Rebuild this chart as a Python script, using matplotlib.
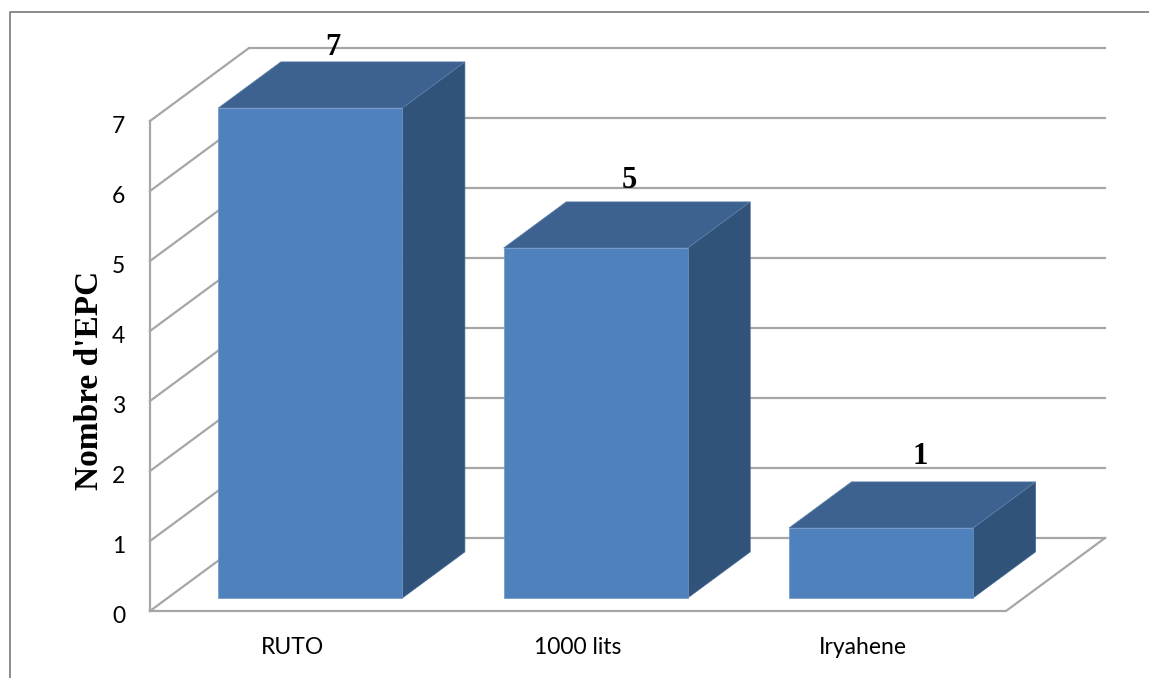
import matplotlib
matplotlib.use('Agg')
import matplotlib.pyplot as plt
from matplotlib.lines import Line2D
from matplotlib.patches import Polygon
from matplotlib.transforms import ScaledTranslation

categories = ['RUTO', '1000 lits', 'Iryahene']
values = [7, 5, 1]
yticks = [0, 1, 2, 3, 4, 5, 6, 7]

# offsets of the value labels from the top of each bar, in points
label_dx = [-29, -20.5, -17]
label_dy = [10, 15.5, 18.5]

GRID = '#a6a6a6'
FRONT = '#4f81bd'
TOP = '#3e6290'
SIDE = '#325379'

# depth of the box, in data units of each axis
DEPTH_X = 99 / (856 / 3)
DEPTH_Y = 73 / 70
BAR_W = 0.645
BAR_D0 = 0.178
BAR_D1 = 0.81


def project(x, v, d):
    return x + d * DEPTH_X, v + d * DEPTH_Y


fig = plt.figure(figsize=(11.49, 6.78), dpi=100)
W, H = 1149.0, 678.0
ax = fig.add_axes([150 / W, 1 - 611 / H, 856 / W, 490 / H])
ax.set_xlim(0, 3)
ax.set_ylim(0, 7)
for s in ax.spines.values():
    s.set_visible(False)
ax.patch.set_visible(False)


def line(pts, lw=1.6, color=GRID, z=1):
    ax.plot([p[0] for p in pts], [p[1] for p in pts], color=color, lw=lw,
            clip_on=False, zorder=z, solid_capstyle='projecting')


# walls and floor
for v in yticks:
    line([project(0, v, 0), project(0, v, 1), project(3, v, 1)])
line([project(0, 0, 0), project(0, 7, 0)])
line([project(0, 0, 0), project(3, 0, 0), project(3, 0, 1)])

# bars
for i, v in enumerate(values):
    x0 = i + 0.5 - BAR_W / 2
    x1 = i + 0.5 + BAR_W / 2
    front = [project(x0, 0, BAR_D0), project(x1, 0, BAR_D0),
             project(x1, v, BAR_D0), project(x0, v, BAR_D0)]
    top = [project(x0, v, BAR_D0), project(x1, v, BAR_D0),
           project(x1, v, BAR_D1), project(x0, v, BAR_D1)]
    side = [project(x1, 0, BAR_D0), project(x1, 0, BAR_D1),
            project(x1, v, BAR_D1), project(x1, v, BAR_D0)]
    ax.add_patch(Polygon(side, fc=SIDE, ec='#3f6592', lw=0.5, clip_on=False, zorder=3 + i))
    ax.add_patch(Polygon(top, fc=TOP, ec='#5f82ad', lw=0.5, clip_on=False, zorder=3 + i))
    ax.add_patch(Polygon(front, fc=FRONT, ec='#6d97c9', lw=0.5, clip_on=False, zorder=3 + i))
    ax.annotate(str(v), project(i + 0.5, v, BAR_D1), xytext=(label_dx[i], label_dy[i]),
                textcoords='offset points', ha='center', va='center',
                family='Liberation Serif', weight='bold', fontsize=22,
                color='black', zorder=10, annotation_clip=False)

ax.set_xticks([i + 0.5 for i in range(len(categories))])
ax.set_xticklabels(categories, family='Lato', fontsize=16.5)
ax.set_yticks(yticks)
ax.set_yticklabels([str(t) for t in yticks], family='Lato', fontsize=16.5, va='center')
ax.tick_params(axis='x', length=0, pad=19, colors='black')
ax.tick_params(axis='y', length=0, pad=18, colors='black')

# the digits sit a little below their gridline
shift = ScaledTranslation(0, -4 / 72, fig.dpi_scale_trans)
for lab in ax.get_yticklabels():
    lab.set_transform(lab.get_transform() + shift)

ax.set_ylabel("Nombre d'EPC", family='Liberation Serif', weight='bold', fontsize=24)
ax.yaxis.set_label_coords(-0.052, 0.471)

# outer frame, open on the right and at the bottom
fig.add_artist(Line2D([10 / W, 10 / W, 1], [0, 1 - 12 / H, 1 - 12 / H],
                      color='#8c8c8c', lw=1.4))

fig.savefig('out.png', dpi=100)
